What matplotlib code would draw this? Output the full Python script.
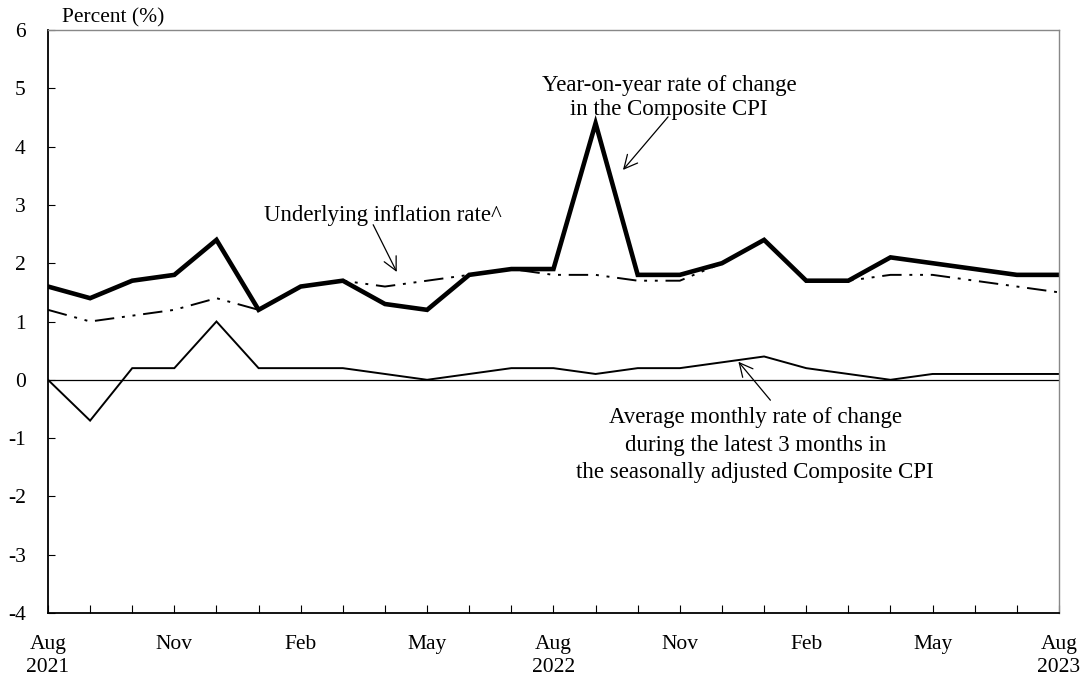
import matplotlib
matplotlib.use("Agg")
import matplotlib.pyplot as plt

plt.rcParams['font.family'] = ['Liberation Serif', 'DejaVu Serif']

months = ["Aug\n2021", "Sep", "Oct", "Nov", "Dec", "Jan", "Feb", "Mar", "Apr", "May", "Jun", "Jul",
          "Aug\n2022", "Sep", "Oct", "Nov", "Dec", "Jan", "Feb", "Mar", "Apr", "May", "Jun", "Jul",
          "Aug\n2023"]
composite_yoy = [1.6, 1.4, 1.7, 1.8, 2.4, 1.2, 1.6, 1.7, 1.3, 1.2, 1.8, 1.9,
                 1.9, 4.4, 1.8, 1.8, 2.0, 2.4, 1.7, 1.7, 2.1, 2.0, 1.9, 1.8, 1.8]
underlying = [1.2, 1.0, 1.1, 1.2, 1.4, 1.2, 1.6, 1.7, 1.6, 1.7, 1.8, 1.9,
              1.8, 1.8, 1.7, 1.7, 2.0, 2.4, 1.7, 1.7, 1.8, 1.8, 1.7, 1.6, 1.5]
avg_3m = [0.0, -0.7, 0.2, 0.2, 1.0, 0.2, 0.2, 0.2, 0.1, 0.0, 0.1, 0.2,
          0.2, 0.1, 0.2, 0.2, 0.3, 0.4, 0.2, 0.1, 0.0, 0.1, 0.1, 0.1, 0.1]
yticks = [-4, -3, -2, -1, 0, 1, 2, 3, 4, 5, 6]

fig = plt.figure(figsize=(10.83, 6.76), dpi=100)
ax = fig.add_axes([0.0443, 0.0932, 0.9335, 0.8624])
x = list(range(len(months)))

ax.axhline(0, color='black', lw=0.9)
ax.plot(x, avg_3m, color='black', lw=1.4, solid_joinstyle='miter')
ax.plot(x, underlying, color='black', lw=1.4, dashes=[10, 4, 1.5, 4, 1.5, 4])
ax.plot(x, composite_yoy, color='black', lw=3.3, solid_joinstyle='miter')

ax.set_xlim(0, len(months) - 1)
ax.set_ylim(-4, 6)
ax.set_yticks(yticks)
ax.set_yticklabels([str(v) for v in yticks], fontsize=15.5)
ax.set_xticks(x)
ax.set_xticklabels([m if i % 3 == 0 else "" for i, m in enumerate(months)], fontsize=15.5,
                   linespacing=1.25)
ax.tick_params(axis='x', direction='in', length=6, width=0.8, pad=16)
ax.tick_params(axis='y', direction='in', length=5, width=0.8, pad=16)
for s in ['left', 'bottom']:
    ax.spines[s].set_linewidth(1.3)
for s in ['top', 'right']:
    ax.spines[s].set_color('#888888')
    ax.spines[s].set_linewidth(1.0)

ax.text(0.33, 6.04, "Percent (%)", fontsize=15.5, ha='left', va='bottom')

ap = dict(arrowstyle='->', color='black', lw=0.9, mutation_scale=24, shrinkA=0, shrinkB=0)
ax.annotate("", xy=(13.65, 3.6), xytext=(14.72, 4.51), arrowprops=ap)
ax.text(14.74, 4.84, "Year-on-year rate of change\nin the Composite CPI", fontsize=16.5,
        ha='center', va='center', linespacing=1.2)

ax.annotate("", xy=(8.28, 1.85), xytext=(7.72, 2.66), arrowprops=ap)
ax.text(7.95, 2.81, "Underlying inflation rate^", fontsize=16.5, ha='center', va='center')

ax.annotate("", xy=(16.39, 0.31), xytext=(17.15, -0.35), arrowprops=ap)
ax.text(16.79, -1.12, "Average monthly rate of change\nduring the latest 3 months in\nthe seasonally adjusted Composite CPI",
        fontsize=16.5, ha='center', va='center', linespacing=1.4)

fig.savefig("out.png", dpi=100)
